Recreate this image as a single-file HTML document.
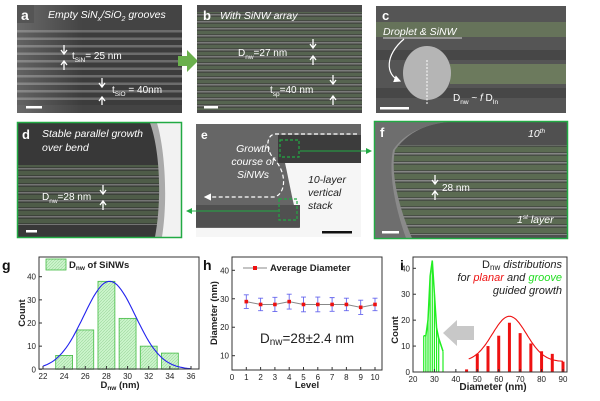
<!DOCTYPE html>
<html><head><meta charset="utf-8"><style>
html,body{margin:0;padding:0;background:#fff;}
svg{display:block;font-family:"Liberation Sans",sans-serif;}
</style></head><body>
<svg id="fig" width="600" height="401" viewBox="0 0 600 401">
<defs>
<pattern id="stripeA" width="10" height="7.5" patternUnits="userSpaceOnUse"><rect width="10" height="7.5" fill="#3c3c3c"/><rect y="0" width="10" height="2.5" fill="#6c6c6c"/></pattern>
<pattern id="stripeB" width="10" height="7" patternUnits="userSpaceOnUse"><rect width="10" height="7" fill="#454a42"/><rect y="0" width="10" height="1.5" fill="#7a7a7a"/><rect y="3" width="10" height="3" fill="#566450"/></pattern>
<pattern id="stripeD" width="10" height="8" patternUnits="userSpaceOnUse"><rect width="10" height="8" fill="#3c423a"/><rect y="0" width="10" height="1.5" fill="#747474"/><rect y="3" width="10" height="4" fill="#4e5c48"/></pattern>
<pattern id="stripeF" width="10" height="9" patternUnits="userSpaceOnUse"><rect width="10" height="9" fill="#484f45"/><rect y="0" width="10" height="1.5" fill="#858585"/><rect y="3" width="10" height="5" fill="#5b6b52"/></pattern>
<linearGradient id="fadeL" x1="0" x2="1"><stop offset="0" stop-color="#fff" stop-opacity="0.2"/><stop offset="0.4" stop-color="#fff" stop-opacity="0"/></linearGradient>
<marker id="ahG" markerWidth="6" markerHeight="6" refX="5" refY="3" orient="auto"><path d="M0,0L6,3L0,6z" fill="#22aa44"/></marker>
<marker id="ahW" markerWidth="6" markerHeight="6" refX="5" refY="3" orient="auto"><path d="M0,0L6,3L0,6z" fill="#fff"/></marker>
</defs>

<g>
<rect x="17" y="5" width="165" height="108" fill="#444"/>
<rect x="17" y="30" width="165" height="75" fill="url(#stripeA)"/>
<rect x="17" y="5" width="165" height="108" fill="url(#fadeL)"/>
<rect x="17" y="5" width="17" height="18" fill="#555"/>
<text x="21" y="20" font-size="14" font-weight="bold" fill="#fff">a</text>
<text x="48" y="18" font-size="10.5" font-style="italic" fill="#fff">Empty SiN<tspan font-size="7" dy="3">x</tspan><tspan dy="-3">/SiO</tspan><tspan font-size="7" dy="3">2</tspan><tspan dy="-3"> grooves</tspan></text>
<text x="72" y="59" font-size="10" fill="#fff">t<tspan font-size="6.5" dy="3">SiN</tspan><tspan dy="-3">= 25 nm</tspan></text>
<text x="112" y="93" font-size="10" fill="#fff">t<tspan font-size="6.5" dy="3">SiO</tspan><tspan dy="-3"> = 40nm</tspan></text>
<path d="M64,45v8M61,50l3,4l3,-4M64,70v-8M61,65l3,-4l3,4M102,78v8M99,83l3,4l3,-4M102,105v-7M99,101l3,-4l3,4" stroke="#fff" stroke-width="1.3" fill="none"/>
<rect x="26" y="106" width="16" height="2.5" fill="#fff"/>
</g>
<path d="M178,56h9v-6l11,11l-11,11v-6h-9z" fill="#6ab04c"/>
<g>
<rect x="197" y="5" width="165" height="108" fill="#4a4a4a"/>
<rect x="197" y="12" width="165" height="98" fill="url(#stripeB)"/>
<text x="203" y="20" font-size="13" font-weight="bold" fill="#fff">b</text>
<text x="220" y="19" font-size="10.5" font-style="italic" fill="#fff">With SiNW array</text>
<text x="238" y="56" font-size="10" fill="#fff">D<tspan font-size="6.5" dy="3">nw</tspan><tspan dy="-3">=27 nm</tspan></text>
<text x="270" y="93" font-size="10" fill="#fff">t<tspan font-size="6.5" dy="3">sp</tspan><tspan dy="-3">=40 nm</tspan></text>
<path d="M313,39v8M310,44l3,4l3,-4M313,65v-8M310,60l3,-4l3,4M333,75v8M330,80l3,4l3,-4M333,105v-8M330,100l3,-4l3,4" stroke="#fff" stroke-width="1.3" fill="none"/>
<rect x="204" y="106" width="14" height="2.5" fill="#fff"/>
</g>
<g>
<rect x="376" y="6" width="190" height="107" fill="#555"/>
<rect x="376" y="22" width="190" height="15" fill="#66735a"/>
<rect x="376" y="50" width="190" height="10" fill="#474747"/>
<rect x="450" y="64" width="116" height="20" fill="#6c7a5d"/>
<rect x="376" y="88" width="190" height="10" fill="#474747"/>
<ellipse cx="427" cy="73" rx="24" ry="27" fill="#b5b5b5"/>
<text x="382" y="20" font-size="13" font-weight="bold" fill="#fff">c</text>
<text x="383" y="35" font-size="10.5" font-style="italic" fill="#fff">Droplet &amp; SiNW</text>
<line x1="383" y1="38" x2="462" y2="38" stroke="#fff" stroke-width="0.8"/>
<path d="M404,39C385,55 385,75 400,81" stroke="#fff" stroke-width="1.2" fill="none" marker-end="url(#ahW)"/>
<line x1="427" y1="60" x2="427" y2="105" stroke="#fff" stroke-dasharray="2,1.5" stroke-width="1"/>
<text x="453" y="101" font-size="10" fill="#fff">D<tspan font-size="6.5" dy="3">nw</tspan><tspan dy="-3"> ~ </tspan><tspan font-style="italic">f</tspan> D<tspan font-size="6.5" dy="3">In</tspan></text>
<rect x="380" y="107" width="29" height="2.5" fill="#fff"/>
</g>
<g>
<rect x="17" y="122" width="165" height="116" fill="#383838"/>
<rect x="17" y="165" width="165" height="60" fill="url(#stripeD)"/>
<path d="M155,123C165,150 168,200 160,237H182V123z" fill="#f2f2f2"/>
<path d="M150,123C160,150 162,200 155,237H162C168,200 165,150 157,123z" fill="#aaa"/>
<rect x="17.5" y="122.5" width="164" height="115" fill="none" stroke="#22aa44" stroke-width="1.5"/>
<text x="22" y="139" font-size="13" font-weight="bold" fill="#fff">d</text>
<text x="42" y="137" font-size="10.5" font-style="italic" fill="#fff">Stable parallel growth</text>
<text x="42" y="151" font-size="10.5" font-style="italic" fill="#fff">over bend</text>
<text x="42" y="200" font-size="10" fill="#fff">D<tspan font-size="6.5" dy="3">nw</tspan><tspan dy="-3">=28 nm</tspan></text>
<path d="M103,185v8M100,190l3,4l3,-4M103,210v-8M100,205l3,-4l3,4" stroke="#fff" stroke-width="1.3" fill="none"/>
<rect x="26" y="230" width="11" height="2.5" fill="#fff"/>
</g>
<g>
<rect x="196" y="124" width="165" height="113" fill="#f6f6f6"/>
<path d="M196,124H361V163H285C290,185 293,205 300,228H196z" fill="#666"/>
<rect x="278" y="135" width="83" height="28" fill="#3c3c3c"/>
<rect x="196" y="205" width="104" height="22" fill="#505050"/>
<text x="201" y="139" font-size="12" font-weight="bold" fill="#fff">e</text>
<text x="253" y="152" font-size="10.5" font-style="italic" fill="#fff" text-anchor="middle">Growth</text>
<text x="253" y="165" font-size="10.5" font-style="italic" fill="#fff" text-anchor="middle">course of</text>
<text x="253" y="178" font-size="10.5" font-style="italic" fill="#fff" text-anchor="middle">SiNWs</text>
<text x="308" y="183" font-size="10.5" font-style="italic" fill="#222">10-layer</text>
<text x="308" y="196" font-size="10.5" font-style="italic" fill="#222">vertical</text>
<text x="308" y="209" font-size="10.5" font-style="italic" fill="#222">stack</text>
<path d="M357,134H275C266,135 265,150 275,160C288,175 285,195 274,197H205" stroke="#fff" stroke-dasharray="4,2.5" stroke-width="1.2" fill="none" marker-end="url(#ahW)"/>
<rect x="280" y="140" width="19" height="17" fill="none" stroke="#22aa44" stroke-dasharray="3,2" stroke-width="1.2"/>
<rect x="279" y="199" width="18" height="21" fill="none" stroke="#22aa44" stroke-dasharray="3,2" stroke-width="1.2"/>
<rect x="322" y="231" width="30" height="2.5" fill="#111"/>
</g>
<line x1="300" y1="151" x2="371" y2="151" stroke="#22aa44" stroke-width="1" marker-end="url(#ahG)"/>
<line x1="278" y1="211" x2="187" y2="211" stroke="#22aa44" stroke-width="1" marker-end="url(#ahG)"/>
<g>
<rect x="374" y="121" width="194" height="118" fill="#505050"/>
<rect x="374" y="145" width="194" height="90" fill="url(#stripeF)"/>
<path d="M374,121H465C430,121 410,130 395,150C390,175 400,210 412,238H374z" fill="#8a8a8a"/>
<path d="M374,121H462C428,122 405,132 393,150C388,175 396,210 406,238H374z" fill="#6e6e6e"/>
<rect x="374.5" y="121.5" width="193" height="117" fill="none" stroke="#22aa44" stroke-width="1.5"/>
<text x="380" y="137" font-size="13" font-weight="bold" fill="#fff">f</text>
<text x="528" y="137" font-size="10.5" font-style="italic" fill="#fff">10<tspan font-size="6.5" dy="-4">th</tspan></text>
<text x="517" y="223" font-size="10.5" font-style="italic" fill="#fff">1<tspan font-size="6.5" dy="-4">st</tspan><tspan dy="4"> layer</tspan></text>
<text x="442" y="191" font-size="10" fill="#fff">28 nm</text>
<path d="M435,175v8M432,180l3,4l3,-4M435,200v-8M432,195l3,-4l3,4" stroke="#fff" stroke-width="1.3" fill="none"/>
<rect x="382" y="231" width="17" height="2.5" fill="#fff"/>
</g>

<g id="gG"></g>
<g id="gH"></g>
<g id="gI"></g>
</svg>
<script>
// Chart g data
const gBins = [24, 26, 28, 30, 32, 34];
const gCounts = [6, 17, 38, 22, 10, 7];
const gTicksX = [22, 24, 26, 28, 30, 32, 34, 36];
const gTicksY = [0, 10, 20, 30, 40];
const gFitMean = 28.3, gFitSigma = 2.45, gFitPeak = 38;
// Chart h data
const hLevels = [1, 2, 3, 4, 5, 6, 7, 8, 9, 10];
const hDiam = [29, 28, 28, 29, 28, 28, 28, 28, 27, 28];
const hErr = [2.4, 2.2, 2.5, 2.6, 2.6, 2.6, 2.4, 2.2, 2.5, 2.2];
const hTicksX = [0, 1, 2, 3, 4, 5, 6, 7, 8, 9, 10];
const hTicksY = [10, 20, 30, 40];
// Chart i data
const iGreenX = [25, 26, 27, 28, 29, 30, 31, 32, 34];
const iGreenY = [14, 14, 20, 37, 43, 30, 17, 13, 8];
const iRedX = [45, 50, 55, 60, 65, 70, 75, 80, 85, 90];
const iRedY = [1, 7, 10, 14, 19, 15, 11, 8, 7, 4];
const iTicksX = [20, 30, 40, 50, 60, 70, 80, 90];
const iTicksY = [0, 10, 20, 30, 40];
const iFitMean = 65, iFitSigma = 8, iFitAmp = 17.5, iFitBase = 4;

const NS = "http://www.w3.org/2000/svg";
function mk(parent, tag, attrs, txt) {
  const e = document.createElementNS(NS, tag);
  for (const k in attrs) e.setAttribute(k, attrs[k]);
  if (txt !== undefined) e.textContent = txt;
  parent.appendChild(e);
  return e;
}
function frame(g, x0, y0, x1, y1) {
  const r = mk(g, 'rect', {x: x0, y: y0, width: x1 - x0, height: y1 - y0, fill: 'none', stroke: '#333', 'stroke-width': 1});
  
  
}
function xTicks(g, ticks, sx, yb) {
  ticks.forEach(t => {
    mk(g, 'line', {x1: sx(t), x2: sx(t), y1: yb, y2: yb - 3, stroke: '#333'});
    const l = mk(g, 'text', {x: sx(t), y: yb + 10, 'font-size': 8, 'text-anchor': 'middle', fill: '#222'}, t);
    
    
  });
}
function yTicks(g, ticks, sy, xl) {
  ticks.forEach(t => {
    mk(g, 'line', {x1: xl, x2: xl + 3, y1: sy(t), y2: sy(t), stroke: '#333'});
    const l = mk(g, 'text', {x: xl - 3, y: sy(t) + 3, 'font-size': 8, 'text-anchor': 'end', fill: '#222'}, t);
    
    
  });
}

(function(){
  const g = document.getElementById('gG');
  const X0 = 39, X1 = 199, Y0 = 257, Y1 = 369;
  const sx = v => 43 + (v - 22) * (148 / 14);
  const sy = v => 369.3 - v * (92.6 / 40);
  mk(g, 'defs', {}).innerHTML = '<pattern id="hatchG" width="3" height="3" patternUnits="userSpaceOnUse"><rect width="3" height="3" fill="#ccf5cc"/><path d="M0,3L3,0" stroke="#9bd69b" stroke-width="0.6"/></pattern>';
  gBins.forEach((b, i) => {
    const r = mk(g, 'rect', {x: sx(b - 0.8), y: sy(gCounts[i]), width: sx(b + 0.8) - sx(b - 0.8), height: sy(0) - sy(gCounts[i]), fill: 'url(#hatchG)', stroke: '#44bb44', 'stroke-width': 0.8});
    
    
  });
  let d = '';
  for (let v = 22; v <= 36.01; v += 0.2) {
    const c = gFitPeak * Math.exp(-Math.pow(v - gFitMean, 2) / (2 * gFitSigma * gFitSigma));
    d += (d ? 'L' : 'M') + sx(v).toFixed(1) + ',' + sy(c).toFixed(1);
  }
  const fit = mk(g, 'path', {d: d, stroke: '#2222ee', fill: 'none', 'stroke-width': 1.1});
  
  
  frame(g, X0, Y0, X1, Y1);
  xTicks(g, gTicksX, sx, Y1);
  yTicks(g, gTicksY, sy, X0);
  const lb = mk(g, 'rect', {x: 46, y: 259, width: 20, height: 11, fill: 'url(#hatchG)', stroke: '#44bb44', 'stroke-width': 0.8});
  
  
  const lt = mk(g, 'text', {x: 69, y: 268, 'font-size': 9.5, 'font-weight': 'bold', fill: '#222'});
  lt.innerHTML = 'D<tspan font-size="6.5" dy="2">nw</tspan><tspan dy="-2"> of SiNWs</tspan>';
  
  
  const pl = mk(g, 'text', {x: 2, y: 270, 'font-size': 14, 'font-weight': 'bold', fill: '#111'}, 'g');
  
  
  const yl = mk(g, 'text', {x: 0, y: 0, transform: 'translate(25,313) rotate(-90)', 'font-size': 9.5, 'font-weight': 'bold', 'text-anchor': 'middle', fill: '#222'}, 'Count');
  
  
  const xl = mk(g, 'text', {x: 120, y: 388, 'font-size': 9.5, 'font-weight': 'bold', 'text-anchor': 'middle', fill: '#222'});
  xl.innerHTML = 'D<tspan font-size="6.5" dy="2">nw</tspan><tspan dy="-2"> (nm)</tspan>';
  
  
})();

(function(){
  const g = document.getElementById('gH');
  const X0 = 232, X1 = 382, Y0 = 257, Y1 = 370;
  const sx = v => 232 + v * 14.3;
  const sy = v => 355.7 - (v - 10) * (85.4 / 30);
  frame(g, X0, Y0, X1, Y1);
  xTicks(g, hTicksX, sx, Y1);
  yTicks(g, hTicksY, sy, X0);
  let d = '';
  hLevels.forEach((l, i) => { d += (i ? 'L' : 'M') + sx(l) + ',' + sy(hDiam[i]); });
  const ln = mk(g, 'path', {d: d, stroke: '#888', fill: 'none', 'stroke-width': 1});
  
  
  hLevels.forEach((l, i) => {
    const x = sx(l), yt = sy(hDiam[i] + hErr[i]), yb = sy(hDiam[i] - hErr[i]);
    const eb = mk(g, 'path', {d: `M${x},${yt}V${yb}M${x-2.5},${yt}H${x+2.5}M${x-2.5},${yb}H${x+2.5}`, stroke: '#6666ee', 'stroke-width': 0.9, fill: 'none'});
    
    
    const p = mk(g, 'rect', {x: x - 1.8, y: sy(hDiam[i]) - 1.8, width: 3.6, height: 3.6, fill: '#ee1111'});
    
    
  });
  mk(g, 'line', {x1: 243, x2: 267, y1: 268, y2: 268, stroke: '#888'});
  mk(g, 'rect', {x: 253, y: 266, width: 4, height: 4, fill: '#ee1111'});
  const lt = mk(g, 'text', {x: 270, y: 271, 'font-size': 9.5, 'font-weight': 'bold', fill: '#222'}, 'Average Diameter');
  
  
  const ann = mk(g, 'text', {x: 260, y: 343, 'font-size': 13.5, fill: '#222'});
  ann.innerHTML = 'D<tspan font-size="10" dy="2">nw</tspan><tspan dy="-2">=28±2.4 nm</tspan>';
  
  
  const pl = mk(g, 'text', {x: 203, y: 270, 'font-size': 14, 'font-weight': 'bold', fill: '#111'}, 'h');
  
  
  const yl = mk(g, 'text', {x: 0, y: 0, transform: 'translate(217,313) rotate(-90)', 'font-size': 9.5, 'font-weight': 'bold', 'text-anchor': 'middle', fill: '#222'}, 'Diameter (nm)');
  
  
  const xl = mk(g, 'text', {x: 307, y: 388, 'font-size': 9.5, 'font-weight': 'bold', 'text-anchor': 'middle', fill: '#222'}, 'Level');
  
  
})();

(function(){
  const g = document.getElementById('gI');
  const X0 = 413, X1 = 567, Y0 = 257, Y1 = 372;
  const sx = v => 413 + (v - 20) * (150 / 70);
  const sy = v => 372 - v * (103.7 / 40);
  iGreenX.forEach((v, i) => {
    const r = mk(g, 'rect', {x: sx(v) - 0.6, y: sy(iGreenY[i]), width: 1.2, height: sy(0) - sy(iGreenY[i]), fill: '#22ee22'});
    
    
  });
  let dg = '';
  iGreenX.forEach((v, i) => { dg += (i ? 'L' : 'M') + sx(v) + ',' + sy(iGreenY[i]); });
  const gl = mk(g, 'path', {d: dg, stroke: '#22ee22', fill: 'none', 'stroke-width': 1.5});
  
  
  iRedX.forEach((v, i) => {
    const r = mk(g, 'rect', {x: sx(v) - 1.5, y: sy(iRedY[i]), width: 3, height: sy(0) - sy(iRedY[i]), fill: '#ee1111'});
    
    
  });
  let d = '';
  for (let v = 46; v <= 90.01; v += 0.5) {
    const c = iFitBase + iFitAmp * Math.exp(-Math.pow(v - iFitMean, 2) / (2 * iFitSigma * iFitSigma));
    d += (d ? 'L' : 'M') + sx(v).toFixed(1) + ',' + sy(c).toFixed(1);
  }
  const fit = mk(g, 'path', {d: d, stroke: '#ee1111', fill: 'none', 'stroke-width': 1.1});
  
  
  frame(g, X0, Y0, X1, Y1);
  xTicks(g, iTicksX, sx, Y1);
  yTicks(g, iTicksY, sy, X0);
  const ar = mk(g, 'path', {d: 'M443,333L457,320V326H474V340H457V346z', fill: '#c8c8c8'});
  
  
  const t1 = mk(g, 'text', {x: 562, y: 268, 'font-size': 11, 'font-style': 'italic', 'text-anchor': 'end', fill: '#222'});
  t1.innerHTML = '<tspan font-style="normal">D</tspan><tspan font-style="normal" font-size="8" dy="2">nw</tspan><tspan dy="-2"> distributions</tspan>';
  
  
  const t2 = mk(g, 'text', {x: 562, y: 281, 'font-size': 11, 'font-style': 'italic', 'text-anchor': 'end', fill: '#222'});
  t2.innerHTML = 'for <tspan fill="#ee1111">planar</tspan> and <tspan fill="#22dd22">groove</tspan>';
  
  
  const t3 = mk(g, 'text', {x: 562, y: 294, 'font-size': 11, 'font-style': 'italic', 'text-anchor': 'end', fill: '#222'}, 'guided growth');
  
  
  const pl = mk(g, 'text', {x: 400, y: 270, 'font-size': 14, 'font-weight': 'bold', fill: '#111'}, 'i');
  
  
  const yl = mk(g, 'text', {x: 0, y: 0, transform: 'translate(398,330) rotate(-90)', 'font-size': 9.5, 'font-weight': 'bold', 'text-anchor': 'middle', fill: '#222'}, 'Count');
  
  
  const xl = mk(g, 'text', {x: 493, y: 390, 'font-size': 10, 'font-weight': 'bold', 'text-anchor': 'middle', fill: '#222'}, 'Diameter (nm)');
  
  
})();
</script>
</body></html>
